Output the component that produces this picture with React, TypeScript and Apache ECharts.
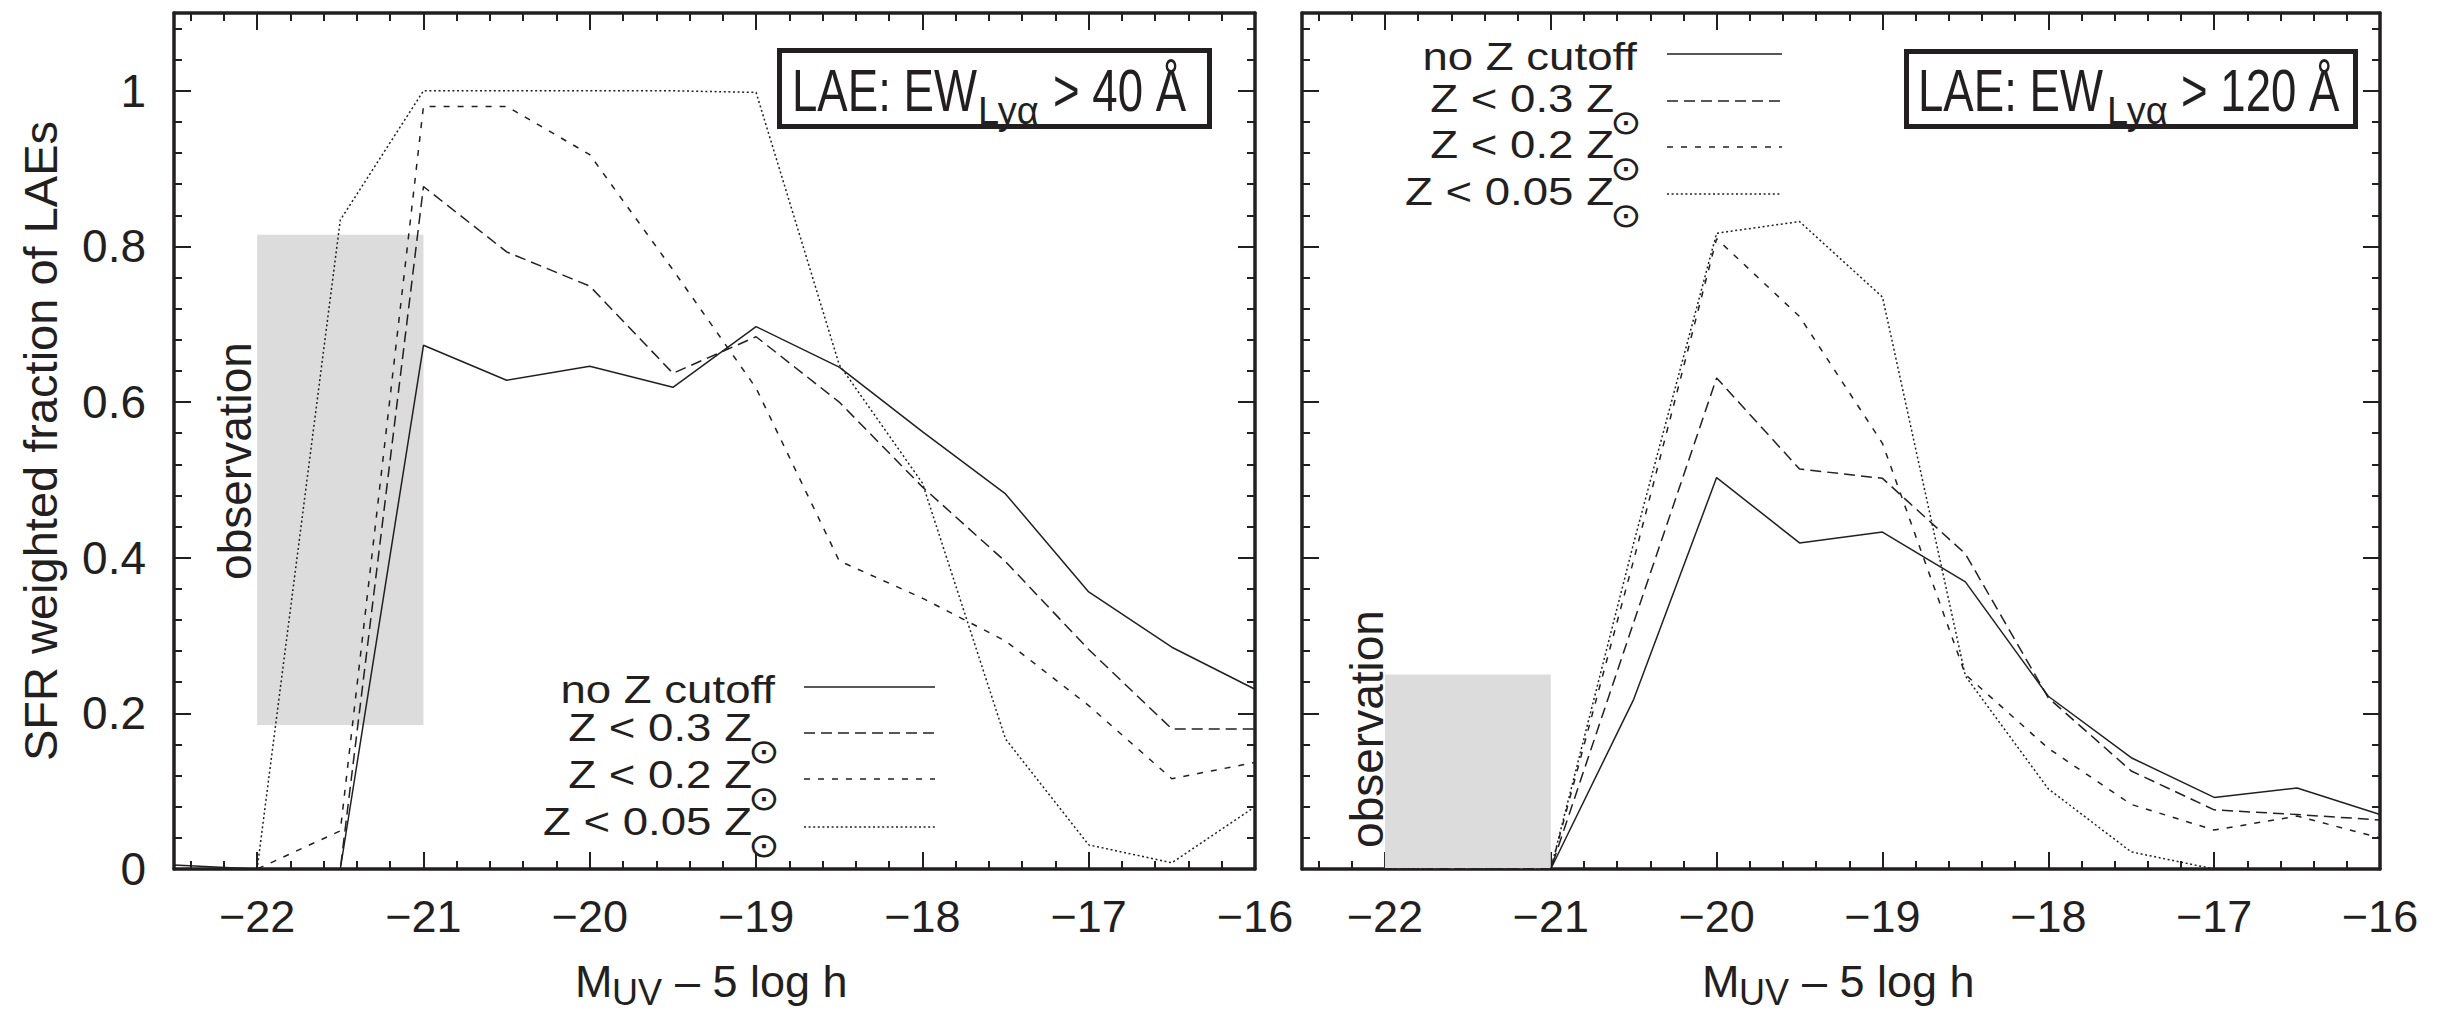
import React, { useEffect, useRef } from "react";
import * as echarts from "echarts";

// ---------- data ----------
const magnitudes = [-22.5, -22, -21.5, -21, -20.5, -20, -19.5, -19, -18.5, -18, -17.5, -17, -16.5, -16];

// Left panel: LAE EW > 40 A
const ew40NoCut = [0.005, 0, 0, 0.673, 0.628, 0.646, 0.619, 0.697, 0.645, 0.562, 0.482, 0.356, 0.285, 0.231];
const ew40Z03 = [0, 0, 0, 0.877, 0.793, 0.749, 0.637, 0.684, 0.6, 0.491, 0.395, 0.282, 0.18, 0.18];
const ew40Z02 = [0, 0, 0.049, 0.98, 0.98, 0.918, 0.77, 0.618, 0.396, 0.348, 0.293, 0.21, 0.116, 0.137];
const ew40Z005 = [0, 0, 0.834, 1.0, 1.0, 1.0, 1.0, 0.998, 0.648, 0.496, 0.167, 0.031, 0.008, 0.08];

// Right panel: LAE EW > 120 A
const ew120NoCut = [0, 0, 0, 0, 0.218, 0.503, 0.419, 0.433, 0.369, 0.222, 0.143, 0.092, 0.104, 0.07];
const ew120Z03 = [0, 0, 0, 0, 0.317, 0.631, 0.514, 0.502, 0.405, 0.22, 0.126, 0.076, 0.07, 0.063];
const ew120Z02 = [0, 0, 0, 0, 0.397, 0.81, 0.71, 0.547, 0.25, 0.155, 0.083, 0.05, 0.068, 0.04];
const ew120Z005 = [0, 0, 0, 0, 0.419, 0.817, 0.832, 0.735, 0.248, 0.103, 0.022, 0, 0, 0];

// observation ranges: [xFrom, xTo, yFrom, yTo]
const obs40 = [-22, -21, 0.185, 0.815];
const obs120 = [-22, -21, 0, 0.25];

const xMajorTicks = [-22, -21, -20, -19, -18, -17, -16];
const xMinorTicks = [
  -22.4, -22.2, -22, -21.8, -21.6, -21.4, -21.2, -21, -20.8, -20.6, -20.4, -20.2, -20,
  -19.8, -19.6, -19.4, -19.2, -19, -18.8, -18.6, -18.4, -18.2, -18, -17.8, -17.6, -17.4,
  -17.2, -17, -16.8, -16.6, -16.4, -16.2,
];
const yMajorTicks = [0, 0.2, 0.4, 0.6, 0.8, 1];
const yMinorTicks = [
  0.04, 0.08, 0.12, 0.16, 0.2, 0.24, 0.28, 0.32, 0.36, 0.4, 0.44, 0.48, 0.52, 0.56, 0.6,
  0.64, 0.68, 0.72, 0.76, 0.8, 0.84, 0.88, 0.92, 0.96, 1, 1.04, 1.08,
];

const seriesNames = ["no Z cutoff", "Z < 0.3 Z\u2299", "Z < 0.2 Z\u2299", "Z < 0.05 Z\u2299"];
const legendMain = ["no Z cutoff", "Z < 0.3 Z", "Z < 0.2 Z", "Z < 0.05 Z"];
const legendHasSun = [false, true, true, true];
const ewThresholds = ["40", "120"];

// ---------- styles ----------
const INK = "#231f20";
const FONT = '"Liberation Sans", Arial, Helvetica, sans-serif';
const SYMFONT = '"DejaVu Sans", sans-serif';
const DASHES: any[] = ["solid", [11, 6], [6, 8], [2, 2.6]];
const LINE_W = 1.5;

const GRIDS = [
  { left: 174, top: 13, width: 1081, height: 856 },
  { left: 1302, top: 13, width: 1078, height: 856 },
];

const LEGENDS = [
  { textRight: 775, mainRight: 752, sunX: 764, x0: 804, x1: 935, baselines: [703, 741, 788, 835], lineYs: [687, 733, 779, 827] },
  { textRight: 1637, mainRight: 1614, sunX: 1626, x0: 1667, x1: 1782, baselines: [70, 112, 158, 205], lineYs: [54, 101, 147, 194] },
];

const BOXES = [
  { x: 777, y: 48, w: 435, h: 81, textX: 792, subX: 978, restX: 1053 },
  { x: 1904, y: 49, w: 454, h: 80, textX: 1918, subX: 2107, restX: 2181 },
];

const OBS_TEXT = [
  { x: 235, y: 461 },
  { x: 1367, y: 729 },
];

const XNAME = [{ mX: 575 }, { mX: 1702 }];

const mid = (baseline: number, fs: number) => baseline - 0.3465 * fs;

function buildXAxes(gi: number) {
  const base = {
    type: "value",
    gridIndex: gi,
    min: -22.5,
    max: -16,
    splitLine: { show: false },
  };
  const line = { show: true, onZero: false, lineStyle: { color: INK, width: 3.5 } };
  const noLine = { show: false, onZero: false };
  const major = { show: true, inside: true, length: 17, customValues: xMajorTicks, lineStyle: { color: INK, width: 2 } };
  const minor = { show: true, inside: true, length: 8, customValues: xMinorTicks, lineStyle: { color: INK, width: 2 } };
  return [
    {
      ...base,
      position: "bottom",
      axisLine: line,
      axisTick: major,
      axisLabel: {
        show: true,
        customValues: xMajorTicks,
        margin: 25,
        formatter: (v: number) => "\u2212" + Math.abs(v),
        fontSize: 45,
        fontFamily: FONT,
        color: INK,
      },
    },
    { ...base, position: "bottom", axisLine: noLine, axisTick: minor, axisLabel: { show: false } },
    { ...base, position: "top", axisLine: line, axisTick: major, axisLabel: { show: false } },
    { ...base, position: "top", axisLine: noLine, axisTick: minor, axisLabel: { show: false } },
  ];
}

function buildYAxes(gi: number) {
  const base = {
    type: "value",
    gridIndex: gi,
    min: 0,
    max: 1.1,
    splitLine: { show: false },
  };
  const line = { show: true, onZero: false, lineStyle: { color: INK, width: 3.5 } };
  const noLine = { show: false, onZero: false };
  const major = { show: true, inside: true, length: 17, customValues: yMajorTicks, lineStyle: { color: INK, width: 2 } };
  const minor = { show: true, inside: true, length: 8, customValues: yMinorTicks, lineStyle: { color: INK, width: 2 } };
  const first: any = {
    ...base,
    position: "left",
    axisLine: line,
    axisTick: major,
    axisLabel:
      gi === 0
        ? {
            show: true,
            customValues: yMajorTicks,
            margin: 28,
            formatter: (v: number) => String(v),
            fontSize: 46,
            fontFamily: FONT,
            color: INK,
          }
        : { show: false },
  };
  if (gi === 0) {
    first.name = "SFR weighted fraction of LAEs";
    first.nameLocation = "middle";
    first.nameRotate = 90;
    first.nameGap = 110;
    first.nameTextStyle = { fontSize: 47, fontFamily: FONT, color: INK };
  }
  return [
    first,
    { ...base, position: "left", axisLine: noLine, axisTick: minor, axisLabel: { show: false } },
    { ...base, position: "right", axisLine: line, axisTick: major, axisLabel: { show: false } },
    { ...base, position: "right", axisLine: noLine, axisTick: minor, axisLabel: { show: false } },
  ];
}

function buildGraphics() {
  const els: any[] = [];
  [0, 1].forEach((gi) => {
    // legend
    const L = LEGENDS[gi];
    legendMain.forEach((txt, i) => {
      const fs = 38;
      els.push({
        type: "text",
        x: legendHasSun[i] ? L.mainRight : L.textRight,
        y: mid(L.baselines[i], fs),
        scaleX: 1.2,
        style: { text: txt, fontSize: fs, fontFamily: FONT, fill: INK, align: "right", verticalAlign: "middle" },
      });
      if (legendHasSun[i]) {
        els.push({
          type: "text",
          x: L.sunX,
          y: L.baselines[i] + 10,
          scaleX: 1.1,
          style: { text: "\u2299", fontSize: 34, fontFamily: SYMFONT, fill: INK, align: "center", verticalAlign: "middle" },
        });
      }
      els.push({
        type: "line",
        shape: { x1: L.x0, y1: L.lineYs[i], x2: L.x1, y2: L.lineYs[i] },
        style: { stroke: INK, lineWidth: LINE_W, lineDash: DASHES[i] === "solid" ? null : DASHES[i] },
      });
    });

    // EW box
    const B = BOXES[gi];
    els.push({
      type: "rect",
      shape: { x: B.x + 2.5, y: B.y + 2.5, width: B.w - 5, height: B.h - 5 },
      style: { fill: "#ffffff", stroke: INK, lineWidth: 5 },
      z: 10,
    });
    els.push({
      type: "text",
      x: B.textX,
      y: mid(111, 60),
      scaleX: 0.76,
      z: 11,
      style: { text: "LAE: EW", fontSize: 60, fontFamily: FONT, fill: INK, align: "left", verticalAlign: "middle" },
    });
    els.push({
      type: "text",
      x: B.subX,
      y: mid(124, 38),
      z: 11,
      style: { text: "Ly\u03b1", fontSize: 38, fontFamily: FONT, fill: INK, align: "left", verticalAlign: "middle" },
    });
    els.push({
      type: "text",
      x: B.restX,
      y: mid(111, 60),
      scaleX: 0.76,
      z: 11,
      style: { text: "> " + ewThresholds[gi] + " \u00c5", fontSize: 60, fontFamily: FONT, fill: INK, align: "left", verticalAlign: "middle" },
    });

    // observation label
    const O = OBS_TEXT[gi];
    els.push({
      type: "text",
      x: O.x,
      y: O.y,
      rotation: Math.PI / 2,
      z: 5,
      style: { text: "observation", fontSize: 46, fontFamily: FONT, fill: INK, align: "center", verticalAlign: "middle" },
    });

    // x axis name
    const X = XNAME[gi];
    els.push({
      type: "text",
      x: X.mX,
      y: mid(997, 45),
      style: { text: "M", fontSize: 45, fontFamily: FONT, fill: INK, align: "left", verticalAlign: "middle" },
    });
    els.push({
      type: "text",
      x: X.mX + 37,
      y: mid(1005, 36),
      style: { text: "UV", fontSize: 36, fontFamily: FONT, fill: INK, align: "left", verticalAlign: "middle" },
    });
    els.push({
      type: "text",
      x: X.mX + 100,
      y: mid(997, 45),
      style: { text: "\u2013 5 log h", fontSize: 45, fontFamily: FONT, fill: INK, align: "left", verticalAlign: "middle" },
    });
  });
  return els;
}

function buildSeries() {
  const panels = [
    { values: [ew40NoCut, ew40Z03, ew40Z02, ew40Z005], obs: obs40 },
    { values: [ew120NoCut, ew120Z03, ew120Z02, ew120Z005], obs: obs120 },
  ];
  const out: any[] = [];
  panels.forEach((p, gi) => {
    out.push({
      type: "custom",
      name: "observation",
      xAxisIndex: gi * 4,
      yAxisIndex: gi * 4,
      z: 1,
      silent: true,
      data: [p.obs],
      encode: { x: [0, 1], y: [2, 3] },
      renderItem: (_params: any, api: any) => {
        const a = api.coord([api.value(0), api.value(3)]);
        const b = api.coord([api.value(1), api.value(2)]);
        return {
          type: "rect",
          shape: { x: a[0], y: a[1], width: b[0] - a[0], height: b[1] - a[1] },
          style: { fill: "#dcdcdc" },
        };
      },
    });
    p.values.forEach((vals, si) => {
      out.push({
        type: "line",
        name: seriesNames[si],
        xAxisIndex: gi * 4,
        yAxisIndex: gi * 4,
        data: magnitudes.map((m, i) => [m, vals[i]]),
        showSymbol: false,
        symbol: "none",
        silent: true,
        z: 3,
        lineStyle: { color: INK, width: LINE_W, type: DASHES[si] },
      });
    });
  });
  return out;
}

export default function App() {
  const ref = useRef<HTMLDivElement>(null);
  useEffect(() => {
    if (!ref.current) return;
    const chart = echarts.init(ref.current, undefined, { renderer: "svg" });
    const option: any = {
      animation: false,
      backgroundColor: "#ffffff",
      textStyle: { fontFamily: FONT },
      grid: GRIDS.map((g) => ({ ...g, containLabel: false, outerBoundsMode: "none" })),
      xAxis: [...buildXAxes(0), ...buildXAxes(1)],
      yAxis: [...buildYAxes(0), ...buildYAxes(1)],
      series: buildSeries(),
      graphic: { elements: buildGraphics() },
    };
    chart.setOption(option);
    return () => chart.dispose();
  }, []);
  return (
    <div
      ref={ref}
      style={{ position: "absolute", left: 0, top: 0, width: 2455, height: 1013, background: "#fff" }}
    />
  );
}
